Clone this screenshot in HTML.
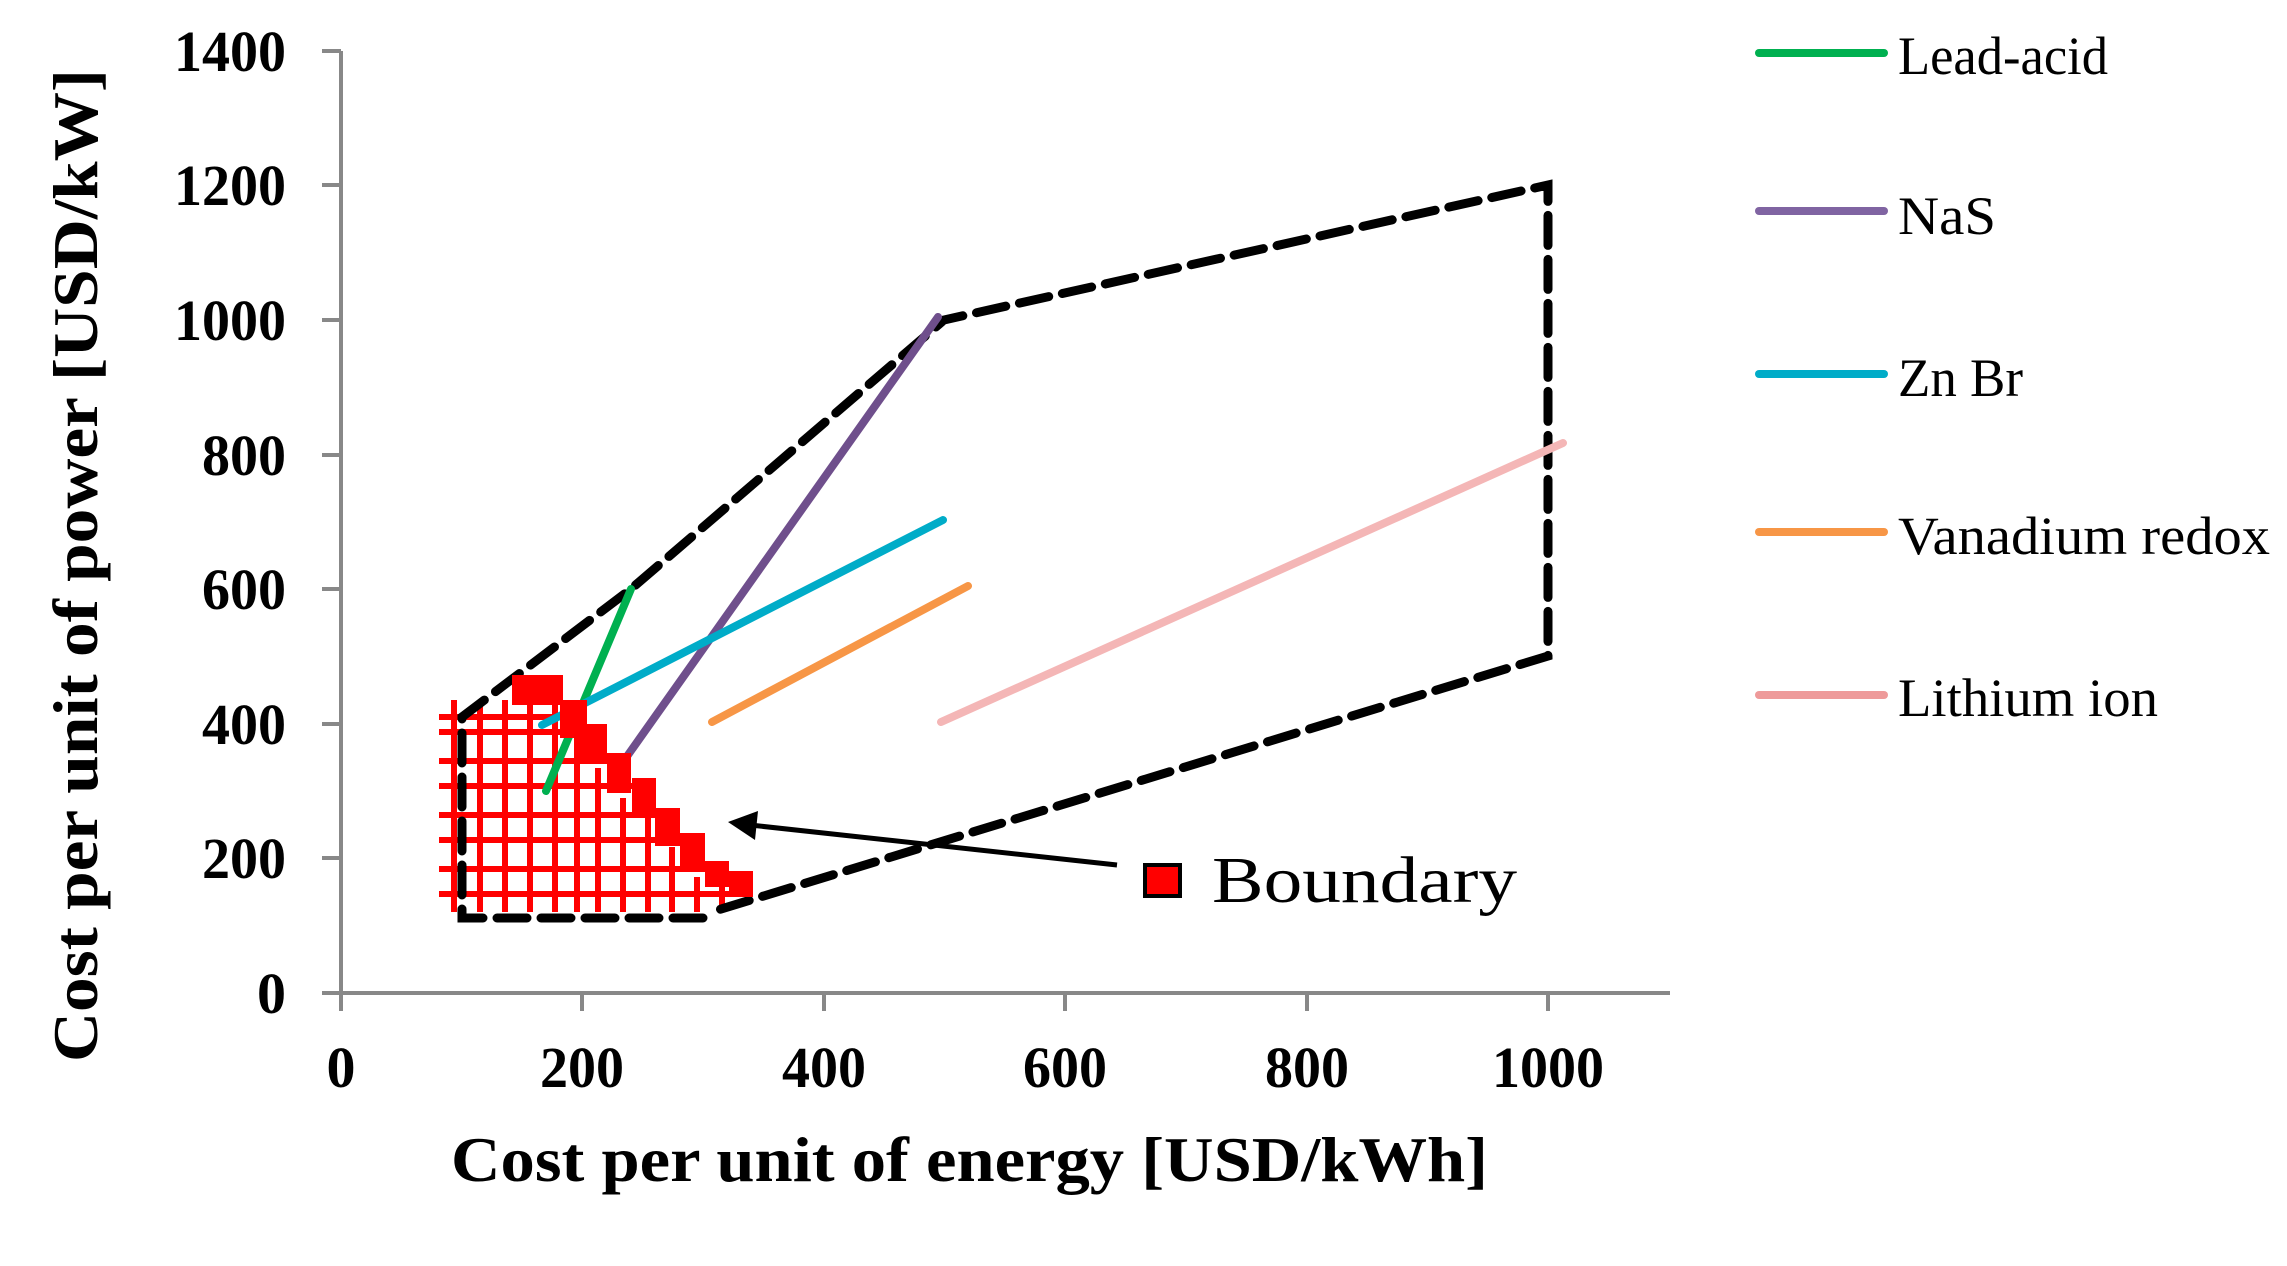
<!DOCTYPE html>
<html><head><meta charset="utf-8"><style>
html,body{margin:0;padding:0;background:#fff;}
svg{display:block;}
</style></head><body>
<svg width="2287" height="1266" viewBox="0 0 2287 1266" xmlns="http://www.w3.org/2000/svg">
<rect width="2287" height="1266" fill="#fff"/>
<!-- axes -->
<g stroke="#888" stroke-width="4" fill="none">
<line x1="341" y1="51" x2="341" y2="995"/>
<line x1="322" y1="993" x2="1670" y2="993"/>
<line x1="322" y1="51" x2="341" y2="51"/>
<line x1="322" y1="185" x2="341" y2="185"/>
<line x1="322" y1="320" x2="341" y2="320"/>
<line x1="322" y1="455" x2="341" y2="455"/>
<line x1="322" y1="589" x2="341" y2="589"/>
<line x1="322" y1="724" x2="341" y2="724"/>
<line x1="322" y1="858" x2="341" y2="858"/>
<line x1="341" y1="993" x2="341" y2="1011"/>
<line x1="582" y1="993" x2="582" y2="1011"/>
<line x1="824" y1="993" x2="824" y2="1011"/>
<line x1="1065" y1="993" x2="1065" y2="1011"/>
<line x1="1307" y1="993" x2="1307" y2="1011"/>
<line x1="1548" y1="993" x2="1548" y2="1011"/>
</g>
<g font-family="Liberation Serif, serif" font-weight="bold" font-size="58" fill="#000">
<g text-anchor="end">
<text x="286" y="71" textLength="112" lengthAdjust="spacingAndGlyphs">1400</text>
<text x="286" y="205" textLength="112" lengthAdjust="spacingAndGlyphs">1200</text>
<text x="286" y="340" textLength="112" lengthAdjust="spacingAndGlyphs">1000</text>
<text x="286" y="475" textLength="84" lengthAdjust="spacingAndGlyphs">800</text>
<text x="286" y="609" textLength="84" lengthAdjust="spacingAndGlyphs">600</text>
<text x="286" y="744" textLength="84" lengthAdjust="spacingAndGlyphs">400</text>
<text x="286" y="878" textLength="84" lengthAdjust="spacingAndGlyphs">200</text>
<text x="286" y="1013">0</text>
</g>
<g text-anchor="middle">
<text x="341" y="1087">0</text>
<text x="582" y="1087" textLength="84" lengthAdjust="spacingAndGlyphs">200</text>
<text x="824" y="1087" textLength="84" lengthAdjust="spacingAndGlyphs">400</text>
<text x="1065" y="1087" textLength="84" lengthAdjust="spacingAndGlyphs">600</text>
<text x="1307" y="1087" textLength="84" lengthAdjust="spacingAndGlyphs">800</text>
<text x="1548" y="1087" textLength="112" lengthAdjust="spacingAndGlyphs">1000</text>
</g>
<text x="451" y="1181" font-size="64" textLength="1037" lengthAdjust="spacingAndGlyphs">Cost per unit of energy [USD/kWh]</text>
<text transform="translate(97,1062) rotate(-90)" x="0" y="0" font-size="64" textLength="993" lengthAdjust="spacingAndGlyphs">Cost per unit of  power [USD/kW]</text>
</g>
<!-- grid hatch -->
<g stroke="#ff0000" stroke-width="6">
<line x1="454" y1="700" x2="454" y2="912"/>
<line x1="480" y1="700" x2="480" y2="912"/>
<line x1="505" y1="700" x2="505" y2="912"/>
<line x1="530" y1="700" x2="530" y2="912"/>
<line x1="555" y1="700" x2="555" y2="912"/>
<line x1="577" y1="730" x2="577" y2="912"/>
<line x1="598" y1="768" x2="598" y2="912"/>
<line x1="623" y1="798" x2="623" y2="912"/>
<line x1="648" y1="813" x2="648" y2="912"/>
<line x1="672" y1="847" x2="672" y2="912"/>
<line x1="697" y1="877" x2="697" y2="912"/>
<line x1="722" y1="883" x2="722" y2="912"/>
<line x1="439" y1="717" x2="565" y2="717"/>
<line x1="439" y1="732" x2="600" y2="732"/>
<line x1="439" y1="761" x2="620" y2="761"/>
<line x1="439" y1="786" x2="640" y2="786"/>
<line x1="439" y1="815" x2="665" y2="815"/>
<line x1="439" y1="840" x2="690" y2="840"/>
<line x1="439" y1="869" x2="715" y2="869"/>
<line x1="439" y1="894" x2="750" y2="894"/>
</g>
<!-- dashed envelope -->
<g stroke="#000" stroke-width="9" fill="none" stroke-dasharray="30,14" stroke-linecap="round">
<polyline points="703,918 462,918 462,717 631,589 944,320 1548,185 1548,656 718,910"/>
</g>
<!-- series -->
<g fill="none" stroke-width="8" stroke-linecap="round">
<line x1="546" y1="791" x2="631" y2="589" stroke="#00b050"/>
<line x1="623" y1="762" x2="938" y2="317" stroke="#6f4f8c"/>
<line x1="542" y1="725" x2="943" y2="520" stroke="#00acc8"/>
<line x1="712" y1="722" x2="968" y2="586" stroke="#f79646"/>
<line x1="941" y1="722" x2="1563" y2="443" stroke="#f4b6b6"/>
</g>
<!-- boundary squares -->
<g fill="#ff0000">
<rect x="512" y="675" width="30" height="30"/>
<rect x="533" y="675" width="30" height="30"/>
<rect x="560" y="700" width="27" height="38"/>
<rect x="577" y="724" width="30" height="38"/>
<rect x="607" y="753" width="24" height="40"/>
<rect x="632" y="778" width="24" height="37"/>
<rect x="655" y="808" width="25" height="38"/>
<rect x="680" y="833" width="25" height="36"/>
<rect x="705" y="861" width="24" height="26"/>
<rect x="729" y="871" width="24" height="26"/>
</g>
<!-- arrow -->
<line x1="1117" y1="865" x2="750" y2="825" stroke="#000" stroke-width="5"/>
<polygon points="728,822 758,811 755,840" fill="#000"/>
<!-- boundary legend -->
<rect x="1145" y="865" width="35" height="31" fill="#ff0000" stroke="#000" stroke-width="4"/>
<text x="1212" y="902" font-family="Liberation Serif, serif" font-size="66" textLength="305" lengthAdjust="spacingAndGlyphs">Boundary</text>
<!-- legend -->
<g stroke-width="8" stroke-linecap="round">
<line x1="1759" y1="53" x2="1884" y2="53" stroke="#00b050"/>
<line x1="1759" y1="211" x2="1884" y2="211" stroke="#8064a2"/>
<line x1="1759" y1="374" x2="1884" y2="374" stroke="#00acc8"/>
<line x1="1759" y1="532" x2="1884" y2="532" stroke="#f79646"/>
<line x1="1759" y1="695" x2="1884" y2="695" stroke="#ee9a9a"/>
</g>
<g font-family="Liberation Serif, serif" font-size="54" fill="#000">
<text x="1898" y="74" textLength="210" lengthAdjust="spacingAndGlyphs">Lead-acid</text>
<text x="1898" y="234" textLength="98" lengthAdjust="spacingAndGlyphs">NaS</text>
<text x="1898" y="396" textLength="125" lengthAdjust="spacingAndGlyphs">Zn Br</text>
<text x="1898" y="554" textLength="372" lengthAdjust="spacingAndGlyphs">Vanadium redox</text>
<text x="1898" y="716" textLength="260" lengthAdjust="spacingAndGlyphs">Lithium ion</text>
</g>
</svg>
</body></html>
